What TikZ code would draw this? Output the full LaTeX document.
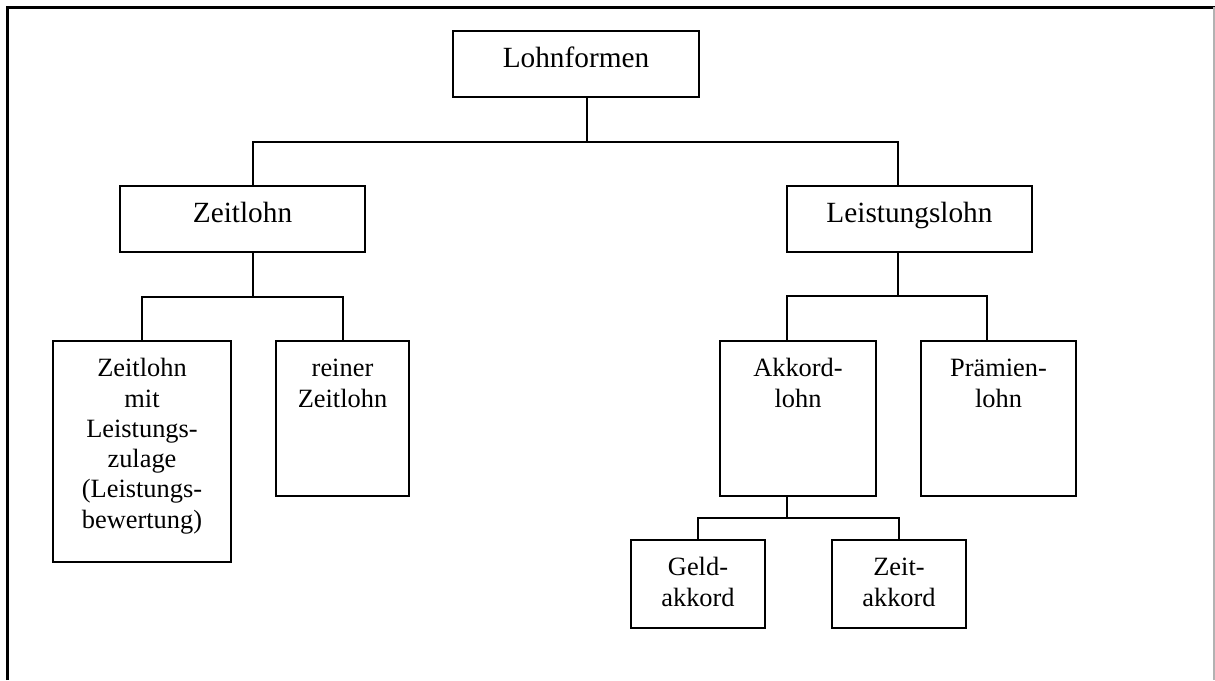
\documentclass[tikz,border=0pt]{standalone}
\usepackage{fontspec}
\setmainfont{Liberation Serif}
\begin{document}
\begin{tikzpicture}[x=0.5pt,y=-0.5pt,
  box/.style={draw,line width=1pt,anchor=north west,inner sep=0pt,outer sep=0pt},
  big/.style={font=\fontsize{14.65}{15.15}\selectfont,anchor=base,inner sep=0pt},
  small/.style={font=\fontsize{13.2}{15.15}\selectfont,anchor=base,inner sep=0pt,text width=85pt,align=center},
  conn/.style={line width=1pt},
  frame/.style={line width=1.5pt}]
\useasboundingbox (0,0) rectangle (1215,680);
% outer frame
\draw[frame] (7,680) -- (7,7) -- (1215,7);
\draw[gray!60,line width=0.6pt] (1214,7) -- (1214,680);
% boxes
\node[box,minimum width=123pt,minimum height=33pt] (lohn) at (453,31) {};
\node[box,minimum width=122.5pt,minimum height=33pt] (zeit) at (120,186) {};
\node[box,minimum width=122.5pt,minimum height=33pt] (leist) at (787,186) {};
\node[box,minimum width=89pt,minimum height=110.5pt] (zmit) at (53,341) {};
\node[box,minimum width=66.5pt,minimum height=77.5pt] (rein) at (276,341) {};
\node[box,minimum width=78pt,minimum height=77.5pt] (akk) at (720,341) {};
\node[box,minimum width=77.5pt,minimum height=77.5pt] (prae) at (921,341) {};
\node[box,minimum width=67pt,minimum height=44pt] (geld) at (631,540) {};
\node[box,minimum width=67pt,minimum height=44pt] (zak) at (832,540) {};
% texts
\node[big] (tlohn) at ([yshift=-18.35pt]lohn.north) {Lohnformen};
\node[big] (tzeit) at ([yshift=-18.35pt]zeit.north) {Zeitlohn};
\node[big] (tleist) at ([yshift=-18.35pt]leist.north) {Leistungslohn};
\node[small] (tzmit) at ([yshift=-17.85pt]zmit.north) {Zeitlohn\\mit\\Leistungs-\\zulage\\(Leistungs-\\bewertung)};
\node[small] (trein) at ([yshift=-17.85pt]rein.north) {reiner\\Zeitlohn};
\node[small] (takk) at ([yshift=-17.85pt]akk.north) {Akkord-\\lohn};
\node[small] (tprae) at ([yshift=-17.85pt]prae.north) {Prämien-\\lohn};
\node[small] (tgeld) at ([yshift=-17.85pt]geld.north) {Geld-\\akkord};
\node[small] (tzak) at ([yshift=-17.85pt]zak.north) {Zeit-\\akkord};
% connectors
\coordinate (j0) at (587,142);
\coordinate (zs) at (253,0);
\coordinate (ls) at (898,0);
\draw[conn] (lohn.south -| j0) -- (j0);
\draw[conn] (zeit.north -| zs) |- (j0) -| (leist.north -| ls);
\coordinate (j1) at (253,297);
\draw[conn] (zeit.south -| j1) -- (j1);
\draw[conn] (zmit.north) |- (j1) -| (rein.north);
\coordinate (j2) at (898,296);
\coordinate (as) at (787,0);
\coordinate (ps) at (987,0);
\draw[conn] (leist.south -| j2) -- (j2);
\draw[conn] (akk.north -| as) |- (j2) -| (prae.north -| ps);
\coordinate (j3) at (787,518);
\draw[conn] (akk.south -| j3) -- (j3);
\draw[conn] (geld.north) |- (j3) -| (zak.north);
\end{tikzpicture}
\end{document}
